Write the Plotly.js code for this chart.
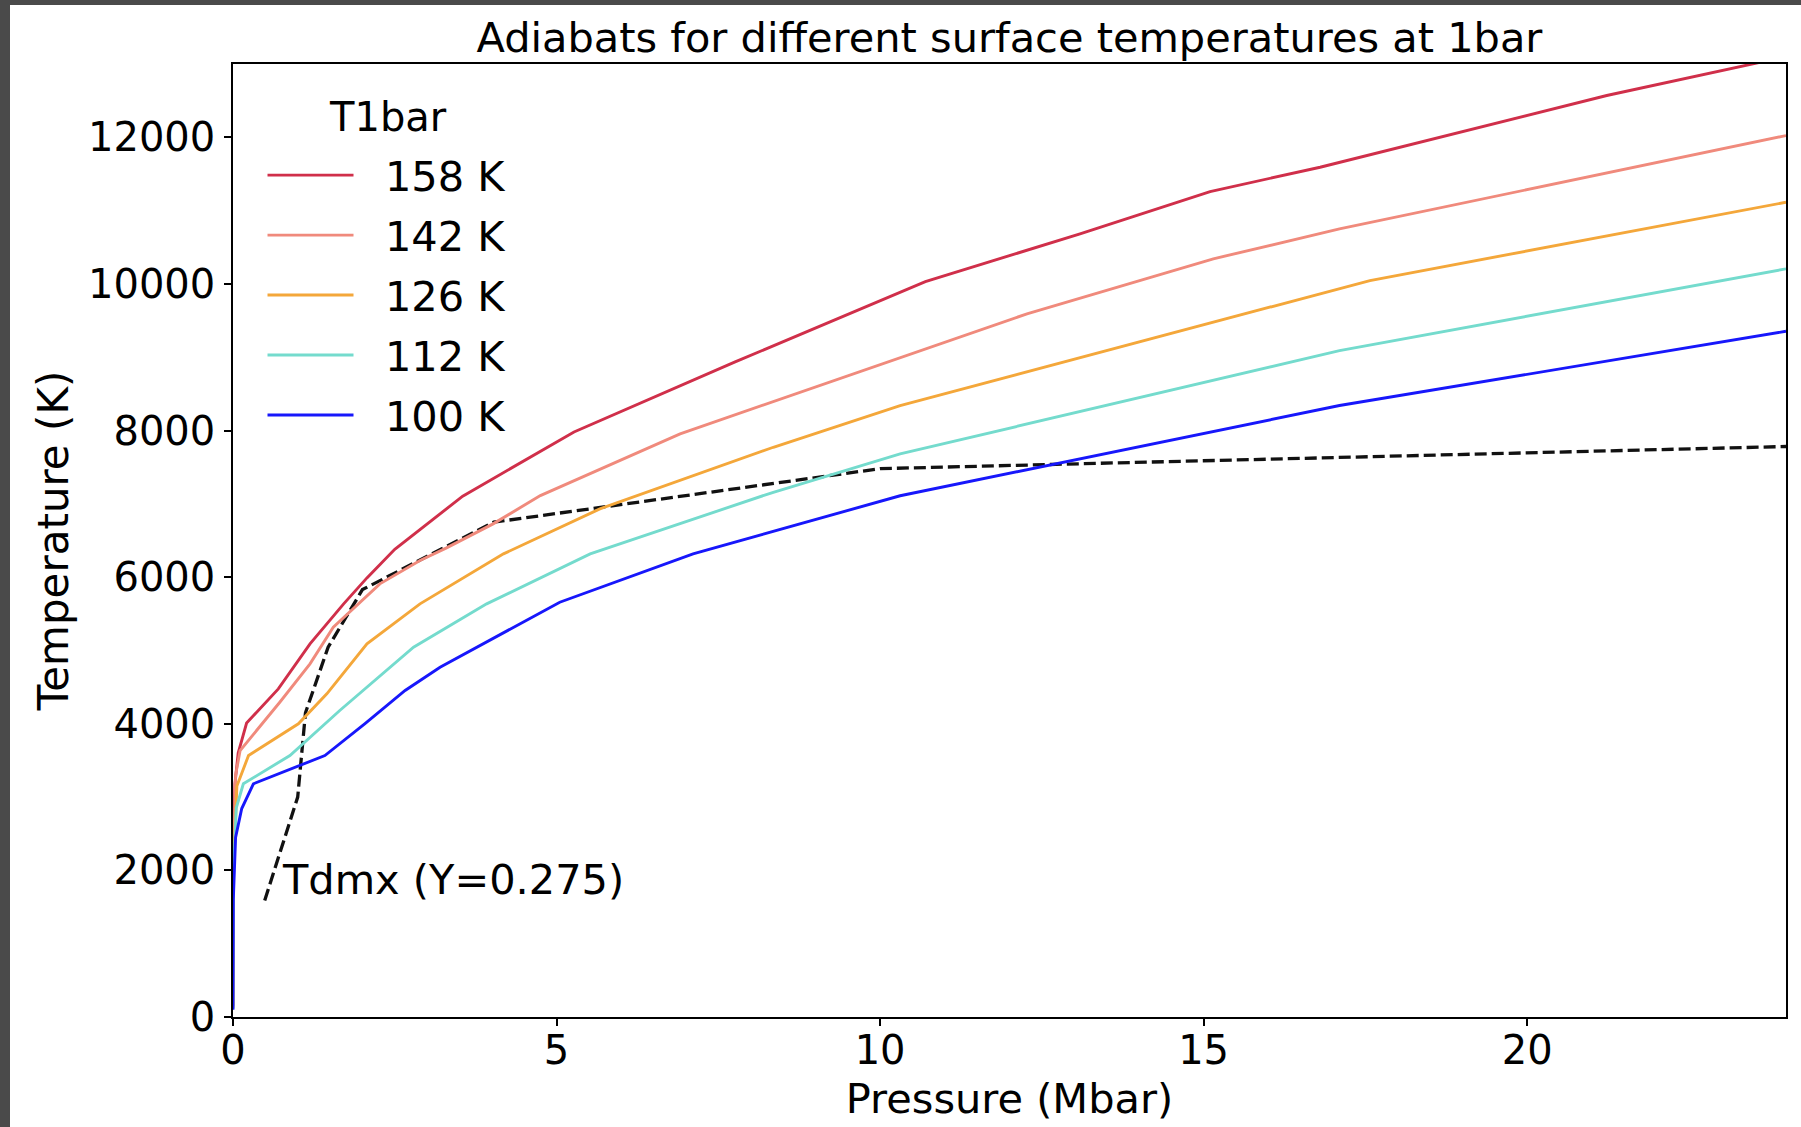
<!DOCTYPE html>
<html>
<head>
<meta charset="utf-8">
<script src="https://cdn.plot.ly/plotly-3.0.1.min.js"></script>
<style>
  html, body { margin: 0; padding: 0; width: 1801px; height: 1127px; background: #4a4a4a; overflow: hidden; }
  #chart { position: absolute; left: 10px; top: 5px; width: 1791px; height: 1122px; background: #ffffff; }
</style>
</head>
<body>
<div id="chart"></div>
<script>
// ---- data ----
const seriesNames = ["158 K", "142 K", "126 K", "112 K", "100 K"];
const seriesColors = ["#d02f4a", "#f08a7c", "#f4a73a", "#74dbcd", "#1717fb"];

const p158 = [0, 0.005, 0.03, 0.08, 0.21, 0.70, 1.19, 1.71, 2.07, 2.5, 3.55, 5.27, 7.76, 10.7, 13.09, 15.1, 16.8, 21.23, 24];
const t158 = [158, 2200, 3180, 3600, 4010, 4476, 5090, 5636, 5990, 6380, 7105, 7981, 8936, 10032, 10683, 11260, 11592, 12570, 13100];

const p142 = [0, 0.005, 0.04, 0.11, 0.72, 1.19, 1.55, 2.27, 2.89, 3.3, 4.02, 4.75, 6.91, 9.28, 12.27, 15.15, 17.1, 24];
const t142 = [142, 2100, 3300, 3635, 4290, 4818, 5317, 5909, 6227, 6400, 6727, 7113, 7955, 8682, 9592, 10342, 10751, 12024];

const p126 = [0, 0.005, 0.06, 0.24, 1.01, 1.45, 2.07, 2.89, 4.18, 5.67, 8.35, 10.31, 17.57, 24];
const t126 = [126, 2000, 3150, 3567, 4000, 4408, 5090, 5636, 6318, 6932, 7772, 8341, 10046, 11114];

const p112 = [0, 0.005, 0.05, 0.16, 0.88, 1.65, 2.79, 3.92, 5.52, 8.35, 10.31, 17.1, 24];
const t112 = [112, 1900, 2850, 3181, 3567, 4181, 5044, 5636, 6318, 7158, 7682, 9091, 10206];

const p100 = [0, 0.005, 0.04, 0.135, 0.315, 1.42, 2.04, 2.66, 3.2, 5.05, 7.11, 10.31, 17.1, 24];
const t100 = [100, 1600, 2450, 2844, 3181, 3567, 4003, 4454, 4772, 5658, 6318, 7110, 8341, 9354];

const pDmx = [0.49, 1.0, 1.12, 1.47, 2.0, 4.03, 10.0, 17.0, 24.0];
const tDmx = [1590, 3000, 4150, 5044, 5830, 6750, 7480, 7636, 7782];

const xTicks = [0, 5, 10, 15, 20];
const yTicks = [0, 2000, 4000, 6000, 8000, 10000, 12000];

const titleText = "Adiabats for different surface temperatures at 1bar";
const xTitle = "Pressure (Mbar)";
const yTitle = "Temperature (K)";
const legendTitle = "T1bar";
const dmxLabel = "Tdmx (Y=0.275)";
const dmxLabelPos = [0.73, 1880];

// ---- traces ----
const pressures = [p158, p142, p126, p112, p100];
const temps = [t158, t142, t126, t112, t100];
const FONT = "DejaVu Sans, Verdana, sans-serif";
const GAP = "\u00a0\u00a0"; // spacing between legend line sample and its label

const traces = [];
traces.push({
  x: pDmx, y: tDmx, mode: "lines", type: "scatter", showlegend: false,
  line: { color: "#111111", width: 3.3, dash: "12px,5px" }, hoverinfo: "skip"
});
for (let i = 0; i < seriesNames.length; i++) {
  traces.push({
    x: pressures[i], y: temps[i], mode: "lines", type: "scatter",
    name: GAP + seriesNames[i], legendgroup: "g" + i,
    line: { color: seriesColors[i], width: 2.9 }
  });
}

const axisCommon = {
  showline: true, linecolor: "#000000", linewidth: 1.5, mirror: true,
  ticks: "outside", ticklen: 7, tickwidth: 1.5, tickcolor: "#000000",
  showgrid: false, zeroline: false,
  tickfont: { family: FONT, size: 40, color: "#000000" }
};

const layout = {
  width: 1791, height: 1122,
  paper_bgcolor: "#ffffff", plot_bgcolor: "#ffffff",
  margin: { l: 223, r: 15, t: 59, b: 110, pad: 0 },
  font: { family: FONT, color: "#000000", size: 40 },
  title: {
    text: titleText, font: { family: FONT, size: 41.5, color: "#000000" },
    x: 0.5, xref: "paper", xanchor: "center",
    y: 1 - 32 / 1122, yref: "container", yanchor: "middle"
  },
  xaxis: Object.assign({}, axisCommon, {
    range: [0, 24], tickvals: xTicks, ticktext: xTicks.map(String),
    ticklabelstandoff: -10,
    title: { text: xTitle, font: { family: FONT, size: 41.5, color: "#000000" }, standoff: 12 }
  }),
  yaxis: Object.assign({}, axisCommon, {
    range: [0, 13000], tickvals: yTicks, ticktext: yTicks.map(String),
    ticklabelstandoff: 1,
    title: { text: yTitle, font: { family: FONT, size: 42, color: "#000000" }, standoff: 6 }
  }),
  showlegend: true,
  legend: {
    x: 0.019, y: 0.9185, xanchor: "left", yanchor: "top",
    bgcolor: "rgba(255,255,255,0)", borderwidth: 0,
    font: { family: FONT, size: 41.5, color: "#000000" },
    tracegroupgap: 3, itemwidth: 86
  },
  annotations: [
    {
      x: dmxLabelPos[0], y: dmxLabelPos[1], xref: "x", yref: "y",
      text: dmxLabel, showarrow: false, xanchor: "left", yanchor: "middle",
      font: { family: FONT, size: 41.5, color: "#000000" }
    },
    {
      x: 0.1001, y: 0.9444, xref: "paper", yref: "paper",
      text: legendTitle, showarrow: false, xanchor: "center", yanchor: "middle",
      font: { family: FONT, size: 40, color: "#000000" }
    }
  ]
};

Plotly.newPlot("chart", traces, layout, { displayModeBar: false, responsive: false });
</script>
</body>
</html>
